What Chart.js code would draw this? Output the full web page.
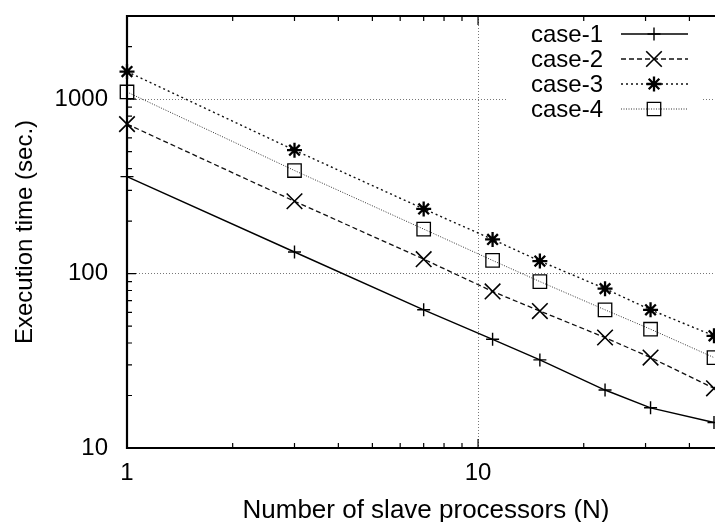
<!DOCTYPE html>
<html>
<head>
<meta charset="utf-8">
<script src="https://cdn.jsdelivr.net/npm/chart.js@4/dist/chart.umd.min.js"></script>
<style>
  html, body { margin: 0; padding: 0; background: #ffffff; }
  #wrap { width: 715px; height: 522px; }
</style>
</head>
<body>
<div id="wrap"><canvas id="c" width="715" height="522"></canvas></div>
<script>
// Slave processor counts (x) and measured execution times in seconds (y)
const processors = [1, 3, 7, 11, 15, 23, 31, 47];
const case1 = [360, 133, 62, 42, 32, 21.5, 17, 14];
const case2 = [720, 260, 121, 79, 61, 43, 33, 22];
const case3 = [1440, 510, 235, 157, 118, 82, 62, 44];
const case4 = [1100, 390, 180, 119, 90, 62, 48, 33];
const seriesNames = ['case-1', 'case-2', 'case-3', 'case-4'];

const xMajor = [1, 10];
const xMinor = [2, 3, 4, 5, 6, 7, 8, 9, 20, 30, 40];
const yMajor = [10, 100, 1000];
const yMinor = [20, 30, 40, 50, 60, 70, 80, 90, 200, 300, 400, 500, 600, 700, 800, 900, 2000, 3000];
const xTitle = 'Number of slave processors (N)';
const yTitle = 'Execution time (sec.)';

const FONT = "'Liberation Sans', Arial, Helvetica, sans-serif";

const styles = [
  { dash: [], width: 1.4, color: '#000', point: 'cross', radius: 6.5, pw: 1.4 },
  { dash: [5, 3], width: 1.3, color: '#111', point: 'crossRot', radius: 11, pw: 1.6 },
  { dash: [2, 3], width: 1.4, color: '#111', point: 'star', radius: 7.5, pw: 2.3 },
  { dash: [1, 1.5], width: 1, color: '#333', point: 'rect', radius: 9.5, pw: 1.3 }
];

const allValues = [case1, case2, case3, case4];
const datasets = allValues.map((vals, i) => ({
  label: seriesNames[i],
  data: processors.map((p, j) => ({ x: p, y: vals[j] })),
  borderColor: styles[i].color,
  borderWidth: styles[i].width,
  borderDash: styles[i].dash,
  pointStyle: styles[i].point,
  pointRadius: styles[i].radius,
  pointBorderWidth: styles[i].pw,
  pointBorderColor: '#000',
  pointBackgroundColor: 'rgba(0,0,0,0)',
  tension: 0,
  fill: false,
  clip: false
}));

// Frame (left, top, bottom), inward tick marks, x-axis title and the key
const framePlugin = {
  id: 'frame',
  afterDatasetsDraw(chart) {
    const { ctx, chartArea: a, scales: { x, y } } = chart;
    ctx.save();
    ctx.strokeStyle = '#000';
    ctx.lineWidth = 1.2;
    ctx.beginPath();
    const tick = (px, len, horizontal) => {
      if (horizontal) {
        ctx.moveTo(px, a.bottom); ctx.lineTo(px, a.bottom - len);
        ctx.moveTo(px, a.top); ctx.lineTo(px, a.top + len);
      } else {
        ctx.moveTo(a.left, px); ctx.lineTo(a.left + len, px);
      }
    };
    xMinor.forEach(v => tick(x.getPixelForValue(v), 5, true));
    xMajor.forEach(v => tick(x.getPixelForValue(v), 9, true));
    yMinor.forEach(v => tick(y.getPixelForValue(v), 5, false));
    yMajor.forEach(v => tick(y.getPixelForValue(v), 9, false));
    ctx.stroke();

    ctx.lineWidth = 2.2;
    ctx.beginPath();
    ctx.moveTo(a.right + 2, a.top);
    ctx.lineTo(a.left, a.top);
    ctx.lineTo(a.left, a.bottom);
    ctx.lineTo(a.right + 2, a.bottom);
    ctx.stroke();

    // x-axis title
    ctx.fillStyle = '#000';
    ctx.font = '26px ' + FONT;
    ctx.textAlign = 'center';
    ctx.textBaseline = 'middle';
    ctx.fillText(xTitle, 426, 511);

    // key
    ctx.fillStyle = '#fff';
    ctx.fillRect(508, a.top + 10, 195, 105);
    ctx.font = '24px ' + FONT;
    ctx.textAlign = 'right';
    ctx.textBaseline = 'middle';
    const rows = [34, 59, 84, 109];
    chart.data.datasets.forEach((ds, i) => {
      const yy = rows[i];
      ctx.fillStyle = '#000';
      ctx.fillText(ds.label, 603, yy + 1);
      ctx.save();
      ctx.strokeStyle = ds.borderColor;
      ctx.lineWidth = ds.borderWidth;
      ctx.setLineDash(ds.borderDash);
      ctx.beginPath();
      ctx.moveTo(621, yy); ctx.lineTo(688, yy);
      ctx.stroke();
      ctx.restore();
      ctx.save();
      ctx.strokeStyle = '#000';
      ctx.lineWidth = ds.pointBorderWidth;
      ctx.fillStyle = 'rgba(0,0,0,0)';
      Chart.helpers.drawPoint(ctx, { pointStyle: ds.pointStyle, radius: ds.pointRadius, rotation: 0, borderWidth: ds.pointBorderWidth }, 654, yy);
      ctx.restore();
    });
    ctx.restore();
  }
};

new Chart(document.getElementById('c'), {
  type: 'line',
  data: { datasets },
  options: {
    responsive: false,
    animation: false,
    layout: { autoPadding: false, padding: { left: 0, top: 16, right: 1, bottom: 0 } },
    plugins: { legend: { display: false }, tooltip: { enabled: false } },
    scales: {
      x: {
        type: 'logarithmic',
        min: 1,
        max: 47,
        afterBuildTicks: s => { s.ticks = xMajor.map(v => ({ value: v })); },
        afterFit: s => { s.height = 74; s.paddingLeft = 0; s.paddingRight = 0; },
        grid: { color: '#777', lineWidth: 1, drawTicks: false },
        border: { display: false, dash: [1, 2] },
        ticks: {
          color: '#000', padding: 11, maxRotation: 0, autoSkip: false,
          font: { family: FONT, size: 24 },
          callback: v => String(v)
        },
        title: { display: false }
      },
      y: {
        type: 'logarithmic',
        min: 10,
        max: 3000,
        afterBuildTicks: s => { s.ticks = yMajor.map(v => ({ value: v })); },
        afterFit: s => { s.width = 127; s.paddingTop = 0; s.paddingBottom = 0; },
        grid: { color: '#777', lineWidth: 1, drawTicks: false },
        border: { display: false, dash: [1, 2] },
        ticks: {
          color: '#000', padding: 19, autoSkip: false,
          font: { family: FONT, size: 24 },
          callback: v => String(v)
        },
        title: {
          display: true, text: yTitle, color: '#000',
          font: { family: FONT, size: 24 }, padding: { top: 11, bottom: 0 }
        }
      }
    }
  },
  plugins: [framePlugin]
});
</script>
</body>
</html>
